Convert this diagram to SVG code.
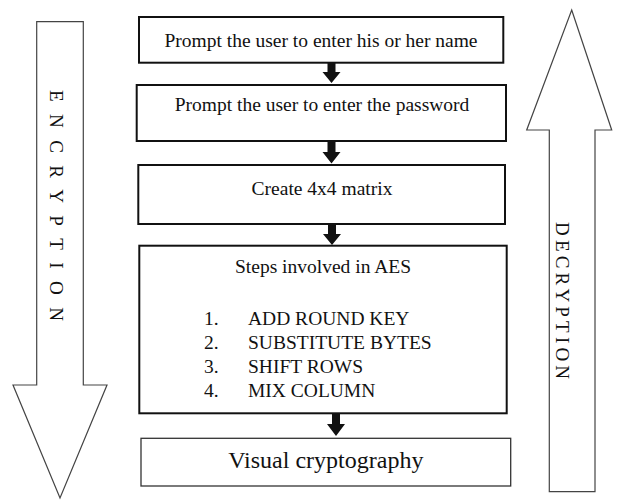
<svg xmlns="http://www.w3.org/2000/svg" width="617" height="503" viewBox="0 0 617 503">
<style>
text{font-family:"Liberation Serif","Times New Roman",serif;fill:#111}
.t{font-size:19.5px;text-anchor:middle}
.l{font-size:19.5px}
.box{fill:#fff;stroke:#111;stroke-width:2}
.box5{fill:#fff;stroke:#333;stroke-width:1.3}
.big{fill:#fff;stroke:#444;stroke-width:1.2}
.side{font-size:19px}
.flow{fill:#111}
</style>
<g id="encryption">
<polygon class="big" points="36.7,21.7 83.3,21.7 83.3,385 107,385 60,498 13,385 36.7,385"/>
<text class="side" transform="translate(50,90) rotate(90)" letter-spacing="12.4">ENCRYPTION</text>
</g>
<g id="decryption">
<polygon class="big" points="571.7,10 611.7,130 595,130 595,491.7 549.3,491.7 549.3,130 526.7,130"/>
<text class="side" transform="translate(556,222) rotate(90)" letter-spacing="4.2">DECRYPTION</text>
</g>
<g id="n1">
<rect class="box" x="139" y="17" width="364.3" height="45.7"/>
<text class="t" x="321" y="46.7">Prompt the user to enter his or her name</text>
</g>
<g id="n2">
<rect class="box" x="136.7" y="85" width="369.3" height="56"/>
<text class="t" x="322" y="111">Prompt the user to enter the password</text>
</g>
<g id="n3">
<rect class="box" x="138.3" y="165" width="366.7" height="59"/>
<text class="t" x="322" y="195">Create 4x4 matrix</text>
</g>
<g id="n4">
<rect class="box" x="139.3" y="245.7" width="367.4" height="167.6"/>
<text class="t" x="323" y="273">Steps involved in AES</text>
<text class="l" x="204" y="325">1.</text><text class="l" x="248" y="325">ADD ROUND KEY</text>
<text class="l" x="204" y="349">2.</text><text class="l" x="248" y="349">SUBSTITUTE BYTES</text>
<text class="l" x="204" y="373">3.</text><text class="l" x="248" y="373">SHIFT ROWS</text>
<text class="l" x="204" y="397">4.</text><text class="l" x="248" y="397">MIX COLUMN</text>
</g>
<g id="n5">
<rect class="box5" x="141" y="438.3" width="369.7" height="47.7"/>
<text class="t" x="325.8" y="468.3" style="font-size:24px">Visual cryptography</text>
</g>
<g id="connectors">
<polygon class="flow" points="327.5,63 335.5,63 335.5,72 340.5,72 331.5,83 322.5,72 327.5,72"/>
<polygon class="flow" points="327.5,141 335.5,141 335.5,152 340.5,152 331.5,163.5 322.5,152 327.5,152"/>
<polygon class="flow" points="328,224 336,224 336,234 341,234 332,245 323,234 328,234"/>
<polygon class="flow" points="332,413 340,413 340,424 345,424 336,436 327,424 332,424"/>
</g>
</svg>
